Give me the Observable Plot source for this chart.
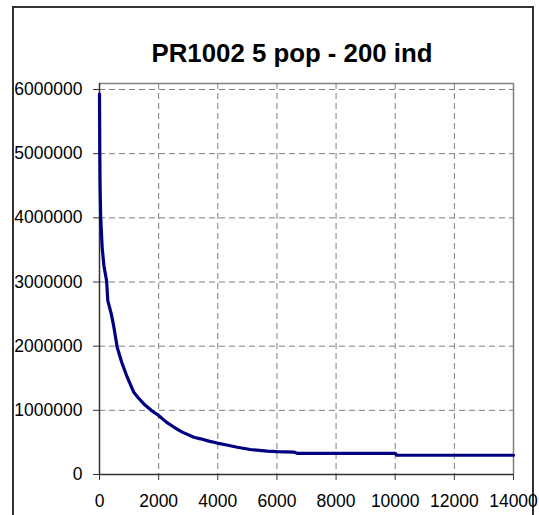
<!DOCTYPE html>
<html>
<head>
<meta charset="utf-8">
<script src="https://cdn.jsdelivr.net/npm/d3@7"></script>
<script src="https://cdn.jsdelivr.net/npm/@observablehq/plot@0.6"></script>
<style>
  html, body { margin: 0; padding: 0; background: #fff; }
  #wrap { position: relative; width: 539px; height: 515px; overflow: hidden; font-family: "Liberation Sans", Arial, sans-serif; }
  #frame { position: absolute; left: 12px; top: 6px; width: 522px; height: 530px; border: 2px solid #333; box-sizing: border-box; }
  #title { position: absolute; left: 0; width: 584px; top: 41px; text-align: center; font-weight: bold; font-size: 25.8px; line-height: 25px; color: #000; white-space: nowrap; }
  #chart { position: absolute; left: 0; top: 0; }
</style>
</head>
<body>
<div id="wrap">
  <div id="frame"></div>
  <div id="chart"></div>
  <div id="title">PR1002 5 pop - 200 ind</div>
</div>
<script>
const titleText = "PR1002 5 pop - 200 ind";
const generations = [0, 5, 10, 20, 40, 90, 150, 240, 280, 400, 485, 600, 750, 935, 1160, 1300, 1500, 1750, 2000, 2250, 2510, 2800, 3190, 3415, 3700, 3980, 4300, 4660, 5100, 5670, 6000, 6570, 6680, 8000, 10000, 10050, 14000];
const cost = [5930000, 5500000, 5020000, 4500000, 4010000, 3540000, 3250000, 3020000, 2710000, 2500000, 2300000, 1980000, 1750000, 1520000, 1280000, 1200000, 1100000, 1000000, 920000, 820000, 740000, 660000, 580000, 556000, 520000, 490000, 460000, 425000, 390000, 363000, 355000, 350000, 330000, 330000, 330000, 300000, 300000];
const xTicks = [0, 2000, 4000, 6000, 8000, 10000, 12000, 14000];
const yTicks = [0, 1000000, 2000000, 3000000, 4000000, 5000000, 6000000];

const data = generations.map((g, i) => ({g, c: cost[i]}));
const yMax = 6093500;

const chart = Plot.plot({
  width: 539,
  height: 515,
  marginLeft: 99,
  marginRight: 26,
  marginTop: 83,
  marginBottom: 41,
  style: {fontFamily: "'Liberation Sans', Arial, sans-serif", fontSize: "17.5px", background: "transparent", color: "#000", overflow: "visible"},
  x: {domain: [0, 14000], label: null},
  y: {domain: [0, yMax], label: null},
  marks: [
    Plot.ruleX(xTicks.filter(d => d > 0 && d < 14000), {stroke: "#808080", strokeWidth: 1, strokeDasharray: "6,4"}),
    Plot.ruleY(yTicks.filter(d => d > 0), {stroke: "#808080", strokeWidth: 1, strokeDasharray: "6,4"}),
    Plot.ruleX([14000], {stroke: "#808080", strokeWidth: 1.5}),
    Plot.ruleY([yMax], {stroke: "#808080", strokeWidth: 1.5}),
    Plot.axisX({ticks: xTicks, tickFormat: d => String(d), tickSize: 6, tickPadding: 14, stroke: "#333", label: null}),
    Plot.axisY({ticks: yTicks, tickFormat: d => String(d), tickSize: 6, tickPadding: 11, stroke: "#333", label: null}),
    Plot.ruleX([0], {stroke: "#333", strokeWidth: 1.5}),
    Plot.ruleY([0], {stroke: "#333", strokeWidth: 1.5}),
    Plot.line(data, {x: "g", y: "c", stroke: "#000080", strokeWidth: 3.2})
  ]
});
document.getElementById("chart").appendChild(chart);
</script>
</body>
</html>
